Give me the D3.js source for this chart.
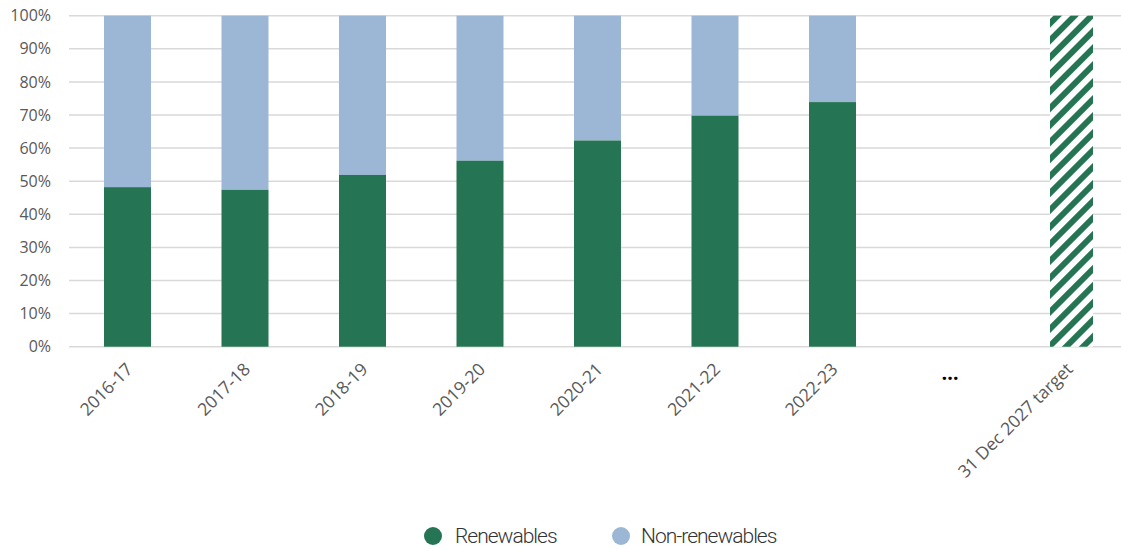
<!DOCTYPE html>
<html>
<head>
<meta charset="utf-8">
<script src="https://cdn.jsdelivr.net/npm/d3@7"></script>
<style>
  html, body { margin: 0; padding: 0; background: #fff; }
  svg { display: block; }
</style>
</head>
<body>
<svg id="chart" width="1121" height="549"></svg>
<script>
// Share of electricity from renewable sources, by financial year
const categories = ["2016-17", "2017-18", "2018-19", "2019-20", "2020-21", "2021-22", "2022-23", "…", "31 Dec 2027 target"];
const renewables = [48.2, 47.4, 51.9, 56.2, 62.3, 69.8, 73.9, null, null];
const nonRenewables = [51.8, 52.6, 48.1, 43.8, 37.7, 30.2, 26.1, null, null];
const target = [null, null, null, null, null, null, null, null, 100];
const yTicks = [0, 10, 20, 30, 40, 50, 60, 70, 80, 90, 100];

const GREEN = "#257453";
const BLUE = "#9cb7d5";

const svg = d3.select("#chart");
const W = 1121;

const x = d3.scaleBand().domain(categories).range([68.75, 1126.25]).paddingInner(0.6).paddingOuter(0.3);
const y = d3.scaleLinear().domain([0, 100]).range([346.7, 15.7]);

// Diagonal hatch for the target bar
const defs = svg.append("defs");
const pat = defs.append("pattern")
  .attr("id", "hatch")
  .attr("patternUnits", "userSpaceOnUse")
  .attr("width", 12)
  .attr("height", 12)
  .attr("patternTransform", "rotate(45)");
pat.append("rect").attr("width", 12).attr("height", 12).attr("fill", "#fff");
pat.append("rect").attr("x", 0).attr("width", 6).attr("height", 12).attr("fill", GREEN);

// Gridlines
const grid = svg.append("g");
grid.selectAll("line").data(yTicks).join("line")
  .attr("x1", 69).attr("x2", W)
  .attr("y1", d => y(d)).attr("y2", d => y(d))
  .attr("stroke", "#d9d9d9").attr("stroke-width", 1.5);

// Y axis labels
const yAxis = d3.axisLeft(y).tickValues(yTicks).tickFormat(d => d + "%").tickSize(0).tickPadding(0);
const gy = svg.append("g").attr("transform", "translate(51,0)").call(yAxis);
gy.select(".domain").remove();
gy.selectAll("text")
  .attr("fill", "#595959")
  .style("font-family", "'Open Sans', sans-serif")
  .style("font-size", "16px");

// Bars
const bars = svg.append("g");
categories.forEach((c, i) => {
  if (renewables[i] != null) {
    bars.append("rect")
      .attr("x", x(c)).attr("width", x.bandwidth())
      .attr("y", y(renewables[i] + nonRenewables[i]))
      .attr("height", y(renewables[i]) - y(renewables[i] + nonRenewables[i]))
      .attr("fill", BLUE);
    bars.append("rect")
      .attr("x", x(c)).attr("width", x.bandwidth())
      .attr("y", y(renewables[i]))
      .attr("height", y(0) - y(renewables[i]))
      .attr("fill", GREEN);
  }
  if (target[i] != null) {
    bars.append("rect")
      .attr("x", x(c) + 6).attr("width", x.bandwidth() - 4)
      .attr("y", y(target[i]))
      .attr("height", y(0) - y(target[i]))
      .attr("fill", "url(#hatch)");
  }
});

// X axis labels
const xl = svg.append("g");
categories.forEach(c => {
  const cx = x(c) + x.bandwidth() / 2;
  if (c === "…") {
    xl.append("text")
      .attr("x", cx).attr("y", 380)
      .attr("text-anchor", "middle")
      .attr("fill", "#000")
      .style("font-family", "'Open Sans', sans-serif")
      .style("font-size", "20px")
      .style("font-weight", "bold")
      .text(c);
  } else {
    xl.append("text")
      .attr("transform", `translate(${cx + 2},${366}) rotate(-45)`)
      .attr("text-anchor", "end")
      .attr("dy", "0.35em")
      .attr("fill", "#595959")
      .style("font-family", "'Open Sans', sans-serif")
      .style("font-size", "17.5px")
      .text(c);
  }
});

// Legend
const legendItems = [
  { label: "Renewables", color: GREEN, cx: 433, tx: 455 },
  { label: "Non-renewables", color: BLUE, cx: 621, tx: 641 }
];
const lg = svg.append("g");
legendItems.forEach(d => {
  lg.append("circle").attr("cx", d.cx).attr("cy", 536).attr("r", 9).attr("fill", d.color);
  lg.append("text")
    .attr("x", d.tx).attr("y", 536)
    .attr("dy", "0.35em")
    .attr("fill", "#333")
    .style("font-family", "Roboto, sans-serif")
    .style("font-weight", "300")
    .style("font-size", "21px")
    .style("letter-spacing", "-1px")
    .text(d.label);
});
</script>
</body>
</html>
